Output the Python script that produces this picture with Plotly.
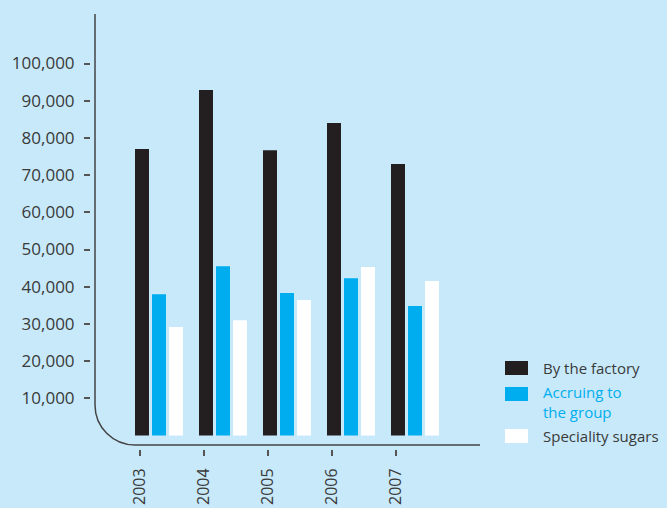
import plotly.graph_objects as go

# Sugar production by year
years = [2003, 2004, 2005, 2006, 2007]
year_labels = ["2003", "2004", "2005", "2006", "2007"]
by_factory = [77000, 92900, 76700, 84000, 73000]
accruing_group = [38000, 45500, 38300, 42300, 34800]
speciality = [29200, 31000, 36400, 45300, 41500]
y_tick_values = [10000, 20000, 30000, 40000, 50000, 60000, 70000, 80000, 90000, 100000]
y_tick_labels = ["10,000", "20,000", "30,000", "40,000", "50,000",
                 "60,000", "70,000", "80,000", "90,000", "100,000"]

series_names = ["By the factory", "Accruing to<br>the group", "Speciality sugars"]
series_colors = ["#231F20", "#00AEEF", "#FFFFFF"]
series_values = [by_factory, accruing_group, speciality]

BG = "#C7E9F9"
INK = "#3A3A3A"
FONT = "Open Sans"

# Page size and plot box in pixels
W, H = 667, 508
L, R, T, B = 91, 480, 14, 449
XR = [2001.9375, 2001.9375 + (R - L) / 64.0]
YR = [-3630, 113310]


def xpx(p):
    return XR[0] + (p - L) / (R - L) * (XR[1] - XR[0])


def ypx(p):
    return YR[1] - (p - T) / (B - T) * (YR[1] - YR[0])


bar_w = 14 / 64.0
offsets = [-24 / 64.0, -7 / 64.0, 10 / 64.0]

fig = go.Figure()
for name, color, vals, off in zip(series_names, series_colors, series_values, offsets):
    fig.add_trace(go.Bar(
        x=years, y=vals, name=name.replace("<br>", " "),
        marker=dict(color=color, line=dict(width=0)),
        width=bar_w, offset=off, showlegend=False,
    ))

# Axis frame with a rounded lower-left corner
k = 0.5523 * 40
frame = (
    f"M {xpx(95)},{ypx(14)} L {xpx(95)},{ypx(405)} "
    f"C {xpx(95)},{ypx(405 + k)} {xpx(135 - k)},{ypx(445)} {xpx(135)},{ypx(445)} "
    f"L {xpx(480)},{ypx(445)}"
)
shapes = [dict(type="path", path=frame, xref="x", yref="y",
               line=dict(color="#444444", width=1.5), layer="above")]

# Legend: swatches and labels
annotations = []
legend_rows = [(361, 368), (387, 402), (429, 436)]
text_colors = [INK, "#00AEEF", INK]
for (sw_top, txt_mid), name, color, tcol in zip(legend_rows, series_names, series_colors, text_colors):
    shapes.append(dict(type="rect", xref="paper", yref="paper",
                       x0=(505 - L) / (R - L), x1=(528 - L) / (R - L),
                       y0=(B - sw_top) / (B - T), y1=(B - sw_top - 14) / (B - T),
                       fillcolor=color, line=dict(width=0)))
    annotations.append(dict(xref="paper", yref="paper",
                            x=(541 - L) / (R - L), y=(B - txt_mid) / (B - T),
                            text=name, showarrow=False, xanchor="left", yanchor="middle",
                            align="left", font=dict(family=FONT, size=15, color=tcol)))

fig.update_layout(
    width=W, height=H,
    margin=dict(l=L, r=W - R, t=T, b=H - B, pad=0, autoexpand=False),
    paper_bgcolor=BG, plot_bgcolor=BG,
    barmode="overlay",
    font=dict(family=FONT, color=INK),
    shapes=shapes, annotations=annotations,
    xaxis=dict(range=XR, showgrid=False, zeroline=False, showline=False, automargin=False,
               tickmode="array", tickvals=[y - 0.30 for y in years], ticktext=year_labels,
               tickangle=-90, ticks="outside", ticklen=6, tickwidth=1.5, tickcolor="#555555",
               tickfont=dict(family=FONT, size=16, color=INK), ticklabelstandoff=6),
    yaxis=dict(range=YR, showgrid=False, zeroline=False, showline=False, automargin=False,
               tickmode="array", tickvals=y_tick_values, ticktext=y_tick_labels,
               ticks="outside", ticklen=6, tickwidth=1.5, tickcolor="#555555",
               tickfont=dict(family=FONT, size=17, color=INK), ticklabelstandoff=6),
)

fig.write_html("out.html")
